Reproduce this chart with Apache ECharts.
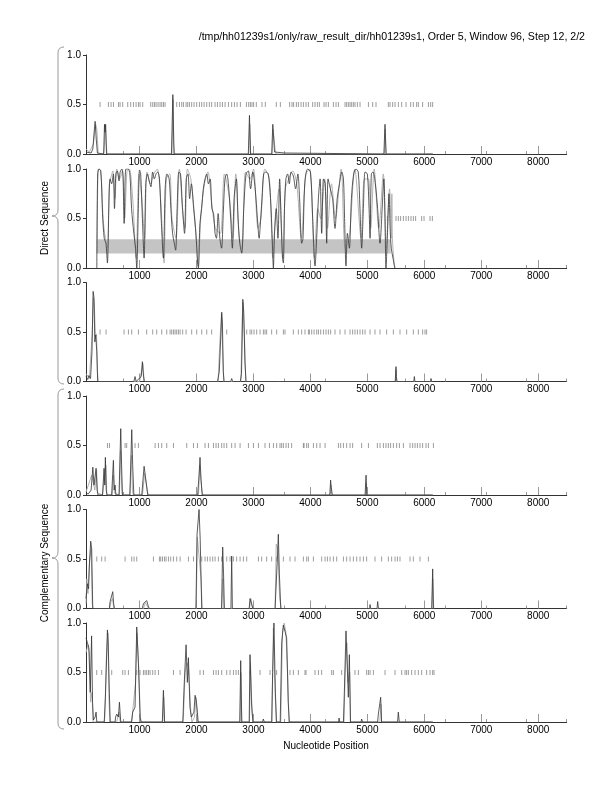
<!DOCTYPE html>
<html><head><meta charset="utf-8">
<script src="https://cdn.jsdelivr.net/npm/echarts@6/dist/echarts.min.js"></script>
<style>html,body{margin:0;padding:0;background:#fff}#c{width:612px;height:792px}</style>
</head><body><div id="c"></div>
<script>
const titleText = "/tmp/hh01239s1/only/raw_result_dir/hh01239s1, Order 5, Window 96, Step 12, 2/2";
const xLabelValues = [1000,2000,3000,4000,5000,6000,7000,8000];
const xMinorValues = [712,3544,4252,5668,6376,7084,7792,8500];
const yTickValues = [0,0.5,1];
const groupNames = ["Direct Sequence","Complementary Sequence"];
const xName = "Nucleotide Position";
const bandRange = [[250,0.146],[5410,0.29]];

const p1Dark = [[60,0.02],[150,0.01],[180,0.05],[200,0.2],[220,0.33],[240,0.15],[260,0.01],[370,0],[385,0.3],[395,0.22],[405,0.3],[420,0],[440,0],[1560,0],[1585,0.6],[1605,0],[2910,0],[2930,0.39],[2950,0],[3320,0],[3340,0.3],[3370,0.02],[3400,0],[3550,0.01],[3560,0],[5290,0],[5310,0.3],[5330,0],[6150,0]];
const p1Gray = [[60,0.05],[120,0.02],[190,0.1],[230,0.3],[250,0.25],[275,0],[370,0],[380,0.05],[400,0.29],[415,0.1],[430,0],[1570,0],[1590,0.55],[1600,0.1],[1620,0],[2920,0],[2935,0.3],[2950,0],[3330,0],[3345,0.25],[3380,0.05],[3400,0],[5300,0],[5312,0.25],[5325,0],[6150,0]];
const p1Ticks = [307,453,500,541,629,658,705,793,845,892,939,980,1009,1056,1197,1232,1261,1290,1325,1360,1390,1419,1448,1653,1700,1741,1770,1817,1846,1875,1916,1957,2004,2051,2092,2133,2180,2226,2267,2326,2367,2414,2455,2502,2560,2618,2665,2712,2770,2876,2917,2946,2975,3004,3050,3150,3208,3401,3472,3636,3677,3706,3753,3788,3835,3876,3923,3964,4040,4081,4122,4157,4239,4274,4315,4403,4450,4491,4608,4637,4666,4696,4725,4754,4783,4824,4871,5018,5094,5152,5368,5398,5445,5486,5544,5603,5679,5761,5807,5866,5895,5971,6071,6112,6147];

const p2Dark = [[250,0],[265,0.95],[290,1],[320,0.98],[350,0.55],[380,0.3],[410,0.25],[436,0.05],[460,0.6],[483,0.9],[510,0.85],[540,0.95],[560,0.6],[585,0.95],[610,0.98],[640,0.88],[660,0.97],[690,1],[710,0.92],[730,0.45],[760,1],[800,1],[830,0.95],[860,0.6],[900,0.35],[930,0.2],[951,0],[975,0.5],[1000,0.99],[1020,0.95],[1050,0.5],[1080,0.1],[1110,0.85],[1140,0.95],[1170,0.88],[1200,0.82],[1230,0.97],[1260,0.9],[1290,0.95],[1320,0.97],[1350,0.9],[1380,0.5],[1419,0.1],[1450,0.8],[1480,0.95],[1520,0.9],[1550,0.6],[1580,0.35],[1610,0.25],[1634,0.18],[1660,0.6],[1690,0.97],[1720,0.95],[1750,0.65],[1790,0.35],[1820,0.9],[1850,0.95],[1880,0.7],[1910,0.85],[1950,0.6],[1990,0.35],[2020,0.05],[2033,0],[2060,0.45],[2090,0.6],[2120,0.8],[2150,0.9],[2180,0.95],[2210,0.85],[2240,0.9],[2270,0.6],[2300,0.55],[2326,0.35],[2350,0.3],[2380,0.55],[2410,0.3],[2440,0.2],[2470,0.55],[2500,0.9],[2530,0.95],[2560,0.85],[2600,0.5],[2630,0.2],[2660,0.7],[2700,0.9],[2730,0.5],[2760,0.25],[2794,0.15],[2830,0.6],[2870,0.95],[2910,0.98],[2950,0.8],[2990,0.97],[3030,0.8],[3070,0.5],[3100,0.3],[3116,0.4],[3150,0.7],[3180,0.95],[3220,0.97],[3260,0.95],[3300,0.7],[3330,0.3],[3350,0],[3370,0.35],[3400,0.6],[3430,0.3],[3460,0.9],[3490,0.4],[3510,0.1],[3525,0.05],[3545,0.6],[3570,0.9],[3600,0.95],[3630,0.85],[3660,0.97],[3700,0.93],[3740,0.8],[3780,0.95],[3810,0.7],[3847,0.25],[3870,0.3],[3900,0.85],[3950,1],[4000,0.97],[4040,0.5],[4081,0.02],[4110,0.3],[4140,0.7],[4170,0.9],[4198,0.35],[4230,0.9],[4260,0.85],[4286,0.25],[4310,0.9],[4350,0.8],[4390,0.7],[4432,0.4],[4470,0.7],[4510,0.85],[4550,0.97],[4580,0.9],[4600,0.5],[4625,0.02],[4650,0.35],[4684,0.2],[4720,0.7],[4760,0.95],[4800,1],[4840,0.97],[4870,0.6],[4900,0.2],[4930,0.6],[4960,0.97],[5000,0.95],[5030,0.6],[5047,0.3],[5070,0.95],[5100,0.97],[5140,0.85],[5180,0.6],[5222,0.25],[5260,0.6],[5290,0.9],[5310,0.5],[5327,0],[5350,0.3],[5380,0.75],[5400,0.4],[5420,0.2],[5450,0.1],[5480,0]];
const p2Gray = [[255,0.15],[275,1],[300,1],[330,0.9],[360,0.5],[400,0.3],[440,0.2],[470,0.85],[500,0.92],[530,0.98],[570,0.7],[600,1],[650,0.9],[700,0.98],[740,0.5],[780,0.98],[820,1],[880,0.7],[940,0.1],[990,0.95],[1040,0.7],[1090,0.3],[1130,0.97],[1190,0.85],[1250,0.95],[1310,1],[1370,0.7],[1430,0.05],[1470,0.9],[1530,0.95],[1570,0.5],[1640,0.3],[1700,1],[1760,0.55],[1800,0.4],[1840,1],[1900,0.9],[1970,0.5],[2030,0.02],[2080,0.55],[2140,0.85],[2200,0.97],[2260,0.7],[2330,0.4],[2420,0.35],[2490,0.95],[2580,0.7],[2640,0.3],[2690,0.95],[2750,0.3],[2800,0.2],[2860,0.97],[2940,0.9],[3000,1],[3080,0.4],[3130,0.5],[3200,1],[3280,0.9],[3340,0.1],[3380,0.45],[3450,0.8],[3520,0.1],[3560,0.8],[3620,0.9],[3690,0.98],[3760,0.85],[3840,0.3],[3920,0.95],[3990,1],[4070,0.1],[4130,0.6],[4180,0.5],[4250,0.9],[4300,0.4],[4370,0.85],[4440,0.5],[4540,1],[4610,0.2],[4680,0.3],[4780,1],[4890,0.3],[4950,0.9],[5020,0.9],[5060,0.4],[5120,1],[5200,0.4],[5280,0.95],[5330,0.2],[5390,0.8],[5420,0.3],[5430,0.75],[5440,0.3],[5470,0.05],[5490,0]];
const p2Ticks = [5351,5503,5544,5585,5632,5679,5720,5766,5807,5848,5954,5995,6100,6141];

const p3Dark = [[60,0.05],[90,0.02],[110,0.06],[140,0.03],[165,0.3],[185,0.91],[200,0.85],[215,0.4],[230,0.47],[250,0.3],[265,0],[620,0],[630,0.02],[640,0],[900,0],[921,0.05],[940,0],[1030,0.05],[1050,0.2],[1062,0.1],[1080,0],[2370,0],[2400,0.1],[2430,0.5],[2443,0.7],[2455,0.6],[2470,0.1],[2484,0],[2600,0],[2618,0.03],[2635,0],[2770,0],[2790,0.08],[2805,0.5],[2813,0.83],[2830,0.7],[2850,0.2],[2870,0],[3460,0],[3466,0.01],[3480,0],[5490,0],[5503,0.15],[5510,0.05],[5520,0],[5815,0],[5825,0.05],[5835,0],[6110,0],[6117,0.03],[6130,0],[6150,0]];
const p3Gray = [[60,0.08],[120,0.03],[170,0.5],[190,0.85],[205,0.8],[225,0.45],[245,0.48],[260,0.1],[275,0],[1000,0],[1040,0.12],[1060,0.18],[1075,0.05],[1090,0],[2380,0],[2410,0.4],[2438,0.68],[2460,0.3],[2480,0],[2780,0],[2800,0.6],[2815,0.8],[2840,0.5],[2865,0],[5490,0],[5503,0.12],[5515,0],[6150,0]];
const p3Ticks = [307,412,728,804,863,980,1126,1232,1302,1390,1478,1536,1565,1595,1624,1653,1682,1712,1758,1817,1916,2004,2092,2180,2267,2531,2882,2940,2970,3010,3057,3116,3174,3203,3232,3320,3408,3525,3554,3700,3788,3847,3905,3964,3982,4023,4064,4111,4140,4181,4228,4274,4315,4356,4432,4520,4608,4696,4742,4783,4824,4871,4918,4959,5047,5134,5222,5339,5456,5573,5690,5807,5895,5971,6012,6041];

const p4Dark = [[60,0.02],[100,0.01],[150,0.05],[180,0.28],[200,0.1],[237,0.27],[255,0.05],[270,0],[350,0],[377,0.27],[390,0.1],[400,0.38],[415,0.05],[430,0],[510,0],[541,0.35],[555,0.05],[570,0.1],[585,0],[640,0],[670,0.67],[685,0.3],[700,0],[830,0],[863,0.66],[880,0.3],[900,0],[1040,0],[1060,0.15],[1080,0.29],[1100,0.2],[1126,0.22],[1145,0],[1160,0.01],[1175,0],[1400,0],[1410,0.02],[1420,0],[2020,0],[2045,0.2],[2062,0.38],[2080,0.15],[2100,0],[4340,0],[4355,0.15],[4365,0.08],[4375,0.1],[4385,0],[4960,0],[4977,0.2],[4990,0],[6150,0]];
const p4Gray = [[60,0.03],[160,0.2],[190,0.22],[215,0.05],[245,0.25],[265,0.02],[280,0],[350,0],[360,0.05],[385,0.2],[410,0.3],[425,0],[520,0],[530,0.1],[545,0.2],[560,0.02],[570,0],[640,0],[650,0.05],[665,0.45],[690,0.05],[700,0],[830,0],[840,0.1],[858,0.4],[875,0.05],[890,0],[1050,0],[1060,0.05],[1090,0.22],[1110,0.24],[1135,0.05],[1150,0],[2030,0],[2040,0.05],[2055,0.3],[2075,0.3],[2095,0.05],[2110,0],[4350,0],[4362,0.1],[4372,0],[4970,0],[4980,0.12],[4990,0],[6150,0]];
const p4Ticks = [436,471,746,775,921,980,1273,1331,1390,1478,1595,1829,1946,2016,2150,2209,2297,2343,2384,2443,2484,2531,2618,2677,2765,2911,2999,3087,3203,3280,3350,3408,3466,3496,3525,3572,3613,3671,3876,3964,3888,3935,4052,4111,4169,4257,4491,4532,4579,4637,4696,4742,4900,5018,5175,5222,5281,5327,5368,5409,5456,5515,5562,5632,5749,5796,5837,5878,5924,5971,6030,6071,6159];

const p5Dark = [[60,0.1],[85,0.25],[105,0.2],[120,0.45],[143,0.68],[160,0.6],[178,0],[470,0],[483,0.07],[510,0.05],[530,0.17],[545,0.05],[560,0],[1050,0],[1068,0.05],[1090,0.03],[1126,0.08],[1150,0.03],[1170,0],[1800,0],[1810,0.01],[1830,0],[1990,0],[2010,0.75],[2045,1],[2065,0.7],[2092,0],[2440,0],[2460,0.62],[2475,0.35],[2490,0],[2605,0],[2618,0.53],[2630,0],[2925,0],[2940,0.1],[2970,0.12],[2990,0],[3380,0],[3420,0.5],[3437,0.75],[3455,0.35],[3480,0],[4100,0],[4111,0.01],[4125,0],[4525,0],[4532,0.02],[4545,0],[5040,0],[5047,0.04],[5060,0],[5170,0],[5181,0.07],[5195,0],[6130,0],[6147,0.4],[6160,0]];
const p5Gray = [[60,0.05],[75,0.3],[95,0.15],[125,0.5],[150,0.6],[170,0.05],[185,0],[475,0],[500,0.07],[525,0.1],[550,0],[1070,0],[1100,0.06],[1130,0.05],[1160,0],[1995,0],[2015,0.72],[2050,0.72],[2080,0.3],[2100,0],[2445,0],[2465,0.3],[2480,0],[2930,0],[2955,0.1],[2985,0],[3380,0],[3400,0.65],[3430,0.6],[3460,0.1],[3490,0],[6135,0],[6148,0.3],[6165,0]];
const p5Ticks = [249,336,395,746,863,904,951,1243,1349,1372,1402,1437,1466,1507,1548,1595,1653,1712,1858,1946,2092,2150,2191,2238,2285,2326,2384,2443,2531,2589,2648,2706,2765,2823,2882,3087,3145,3232,3320,3408,3525,3642,3730,3876,3935,3964,4052,4198,4257,4298,4345,4403,4462,4579,4637,4696,4754,4813,4871,4930,4988,5134,5251,5368,5427,5486,5527,5573,5749,5807,5924,6071];

const p6Dark = [[60,0.85],[85,0.8],[110,0.75],[135,0.3],[158,0.87],[175,0.2],[190,0.02],[220,0.05],[237,0.1],[250,0],[380,0],[401,0.25],[436,0.93],[450,0.8],[470,0.3],[485,0],[570,0],[580,0.05],[600,0.08],[629,0.05],[647,0.2],[670,0],[860,0],[880,0.1],[921,0.15],[951,0.96],[980,0.6],[1010,0.05],[1030,0],[1400,0],[1419,0.32],[1440,0],[1760,0],[1782,0.35],[1817,0.78],[1840,0.4],[1858,0.65],[1885,0.15],[1910,0.05],[1955,0.1],[1975,0.27],[2000,0.2],[2030,0],[2760,0],[2776,0.62],[2795,0],[2925,0],[2940,0.68],[2965,0.2],[2990,0],[3160,0],[3174,0.03],[3190,0],[3320,0],[3337,0.5],[3360,1],[3385,0.3],[3405,0],[3470,0],[3496,0.8],[3525,0.98],[3554,0.97],[3583,0.85],[3610,0.2],[3630,0],[4260,0],[4274,0.02],[4290,0],[4495,0],[4503,0.04],[4515,0],[4580,0],[4596,0.3],[4625,0.92],[4645,0.6],[4666,0.25],[4684,0.68],[4705,0],[4890,0],[4900,0.03],[4915,0],[5180,0],[5193,0.08],[5234,0.25],[5250,0],[5530,0],[5544,0.1],[5560,0],[6150,0]];
const p6Gray = [[60,0.7],[95,0.78],[120,0.7],[140,0.2],[165,0.3],[185,0],[380,0],[390,0.05],[420,0.7],[445,0.9],[465,0.2],[480,0],[600,0],[610,0.03],[640,0.1],[660,0],[860,0],[870,0.05],[930,0.4],[955,0.9],[990,0.5],[1015,0],[1410,0],[1425,0.25],[1440,0],[1760,0],[1770,0.05],[1800,0.5],[1830,0.6],[1860,0.55],[1900,0.1],[1920,0],[1955,0],[1965,0.05],[1990,0.25],[2020,0],[2765,0],[2780,0.5],[2795,0],[2930,0],[2948,0.6],[2975,0.1],[2995,0],[3325,0],[3350,0.95],[3375,0.4],[3400,0],[3480,0],[3510,0.9],[3540,1],[3570,0.9],[3600,0.5],[3625,0],[4590,0],[4610,0.5],[4640,0.8],[4660,0.4],[4690,0.5],[4700,0],[5220,0],[5238,0.18],[5250,0],[6150,0]];
const p6Ticks = [249,336,512,705,746,804,951,1009,1068,1097,1126,1156,1185,1232,1273,1331,1595,1712,1858,2062,2121,2297,2343,2384,2443,2531,2589,2648,2694,2735,2940,3116,3291,3408,3642,3700,3788,3905,3923,4081,4140,4198,4374,4403,4549,4783,4842,4988,5018,5047,5105,5310,5486,5603,5661,5690,5720,5778,5837,5895,5954,6041,6100,6147,6170];

const panels = [
  {dark:p1Dark, gray:p1Gray, ticks:p1Ticks},
  {dark:p2Dark, gray:p2Gray, ticks:p2Ticks, band:true, smooth:0.3},
  {dark:p3Dark, gray:p3Gray, ticks:p3Ticks},
  {dark:p4Dark, gray:p4Gray, ticks:p4Ticks},
  {dark:p5Dark, gray:p5Gray, ticks:p5Ticks},
  {dark:p6Dark, gray:p6Gray, ticks:p6Ticks}
];
const gridTops = [55,169,282.5,396,509.5,623];
const FONT = "Liberation Sans";

const grid=[], xAxis=[], yAxis=[], series=[];
panels.forEach((p,i)=>{
  grid.push({left:86, right:45.3, top:gridTops[i], height:99, containLabel:false});
  xAxis.push({type:'value', gridIndex:i, min:60, max:8500,
    axisLine:{show:true, lineStyle:{color:'#333', width:1}},
    axisTick:{show:true, inside:true, length:8, lineStyle:{color:'#999'}, customValues:xLabelValues},
    axisLabel:{show:true, customValues:xLabelValues, color:'#000', fontFamily:FONT, fontSize:10, margin:3, formatter:v=>String(v)},
    splitLine:{show:false}});
  xAxis.push({type:'value', gridIndex:i, min:60, max:8500, position:'bottom',
    axisLine:{show:false},
    axisTick:{show:true, inside:true, length:3, lineStyle:{color:'#999'}, customValues:xMinorValues},
    axisLabel:{show:false}, splitLine:{show:false}});
  yAxis.push({type:'value', gridIndex:i, min:0, max:1, interval:0.5,
    axisLine:{show:true, lineStyle:{color:'#333', width:1}},
    axisTick:{show:true, length:3, lineStyle:{color:'#333'}},
    axisLabel:{color:'#000', fontFamily:FONT, fontSize:10, margin:5, formatter:v=>v.toFixed(1)},
    splitLine:{show:false}});
  series.push({type:'scatter', xAxisIndex:2*i, yAxisIndex:i, symbol:'rect', symbolSize:[0.9,5],
    itemStyle:{color:'#777'}, silent:true, z:1,
    data:p.ticks.map(x=>[x,0.5])});
  const gray = {type:'line', xAxisIndex:2*i, yAxisIndex:i, data:p.gray, showSymbol:false, symbol:'none',
    smooth:p.smooth||false, lineStyle:{color:'#aaa', width:0.9}, silent:true, z:2};
  if(p.band){
    gray.markArea = {silent:true, itemStyle:{color:'#c4c4c4', opacity:1}, z:0,
      data:[[{coord:bandRange[0]},{coord:bandRange[1]}]]};
  }
  series.push(gray);
  series.push({type:'line', xAxisIndex:2*i, yAxisIndex:i, data:p.dark, showSymbol:false, symbol:'none',
    smooth:p.smooth||false, lineStyle:{color:'#333', width:0.8}, silent:true, z:3});
});

const BR = {stroke:'#999', lineWidth:1, fill:null};
function brace(top,bottom,tip){
  return [
    {type:'bezierCurve', shape:{x1:64,y1:top,x2:58,y2:top+6,cpx1:58,cpy1:top}, style:BR},
    {type:'line', shape:{x1:58,y1:top+6,x2:58,y2:tip-6}, style:BR},
    {type:'bezierCurve', shape:{x1:58,y1:tip-6,x2:52,y2:tip,cpx1:58,cpy1:tip}, style:BR},
    {type:'bezierCurve', shape:{x1:52,y1:tip,x2:58,y2:tip+6,cpx1:58,cpy1:tip}, style:BR},
    {type:'line', shape:{x1:58,y1:tip+6,x2:58,y2:bottom-6}, style:BR},
    {type:'bezierCurve', shape:{x1:58,y1:bottom-6,x2:64,y2:bottom,cpx1:58,cpy1:bottom}, style:BR}
  ];
}

const option = {
  animation:false,
  backgroundColor:'#fff',
  title:{text:titleText, right:22, top:27, textStyle:{fontFamily:FONT, fontSize:10.6, fontWeight:'normal', color:'#000'}},
  grid, xAxis, yAxis, series,
  graphic:[
    ...brace(47,384,216),
    ...brace(389,729,558),
    {type:'text', x:45, y:218, rotation:Math.PI/2, style:{text:groupNames[0], fontFamily:FONT, fontSize:10, fill:'#000', align:'center', verticalAlign:'middle'}},
    {type:'text', x:45, y:563, rotation:Math.PI/2, style:{text:groupNames[1], fontFamily:FONT, fontSize:10, fill:'#000', align:'center', verticalAlign:'middle'}},
    {type:'text', x:326, y:746, style:{text:xName, fontFamily:FONT, fontSize:10, fill:'#000', align:'center', verticalAlign:'middle'}}
  ]
};
const chart = echarts.init(document.getElementById('c'), null, {renderer:'canvas'});
chart.setOption(option);
</script></body></html>
